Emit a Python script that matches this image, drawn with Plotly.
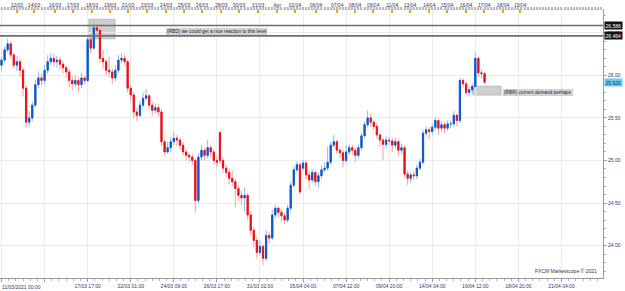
import plotly.graph_objects as go

# ---------------- data (4h candles, XAG/USD-like) ----------------
opens = [26.12, 26.18, 26.30, 26.37, 26.24, 26.12, 26.16, 26.06, 25.85, 25.45,
         25.50, 25.65, 25.89, 25.97, 25.94, 26.06, 26.16, 26.20, 26.16, 26.18,
         26.13, 26.09, 26.04, 25.94, 25.90, 25.94, 25.89, 25.97, 25.94, 26.42,
         26.32, 26.56, 26.53, 26.20, 26.16, 26.06, 26.04, 25.97, 26.06, 26.18,
         26.20, 26.16, 25.85, 25.77, 25.57, 25.53, 25.65, 25.73, 25.76, 25.65,
         25.59, 25.62, 25.57, 25.22, 25.10, 25.15, 25.22, 25.26, 25.24, 25.18,
         25.10, 25.06, 25.04, 25.00, 24.53, 25.04, 25.12, 25.06, 25.15, 25.10,
         25.00, 25.33, 25.00, 24.91, 24.86, 24.79, 24.75, 24.67, 24.59, 24.56,
         24.59, 24.36, 24.18, 24.06, 23.92, 23.99, 23.85, 24.12, 24.09, 24.36,
         24.44, 24.39, 24.35, 24.30, 24.44, 24.71, 24.89, 24.95, 24.91, 24.97,
         24.83, 24.77, 24.86, 24.75, 24.82, 24.89, 24.91, 24.98, 25.18, 25.22,
         25.12, 25.09, 25.00, 25.10, 25.15, 25.12, 25.06, 25.15, 25.29, 25.42,
         25.50, 25.45, 25.40, 25.30, 25.24, 25.19, 25.24, 25.23, 25.18, 25.22,
         25.12, 25.15, 24.84, 24.79, 24.83, 24.82, 24.91, 24.98, 25.32, 25.36,
         25.34, 25.39, 25.47, 25.38, 25.42, 25.38, 25.43, 25.43, 25.53, 25.47,
         25.94, 25.90, 25.80, 25.83, 25.87, 26.20, 26.03, 26.02]
closes = [26.18, 26.30, 26.37, 26.24, 26.12, 26.16, 26.06, 25.85, 25.45, 25.50,
          25.65, 25.89, 25.97, 25.94, 26.06, 26.16, 26.20, 26.16, 26.18, 26.13,
          26.09, 26.04, 25.94, 25.90, 25.94, 25.89, 25.97, 25.94, 26.42, 26.32,
          26.56, 26.53, 26.20, 26.16, 26.06, 26.04, 25.97, 26.06, 26.18, 26.20,
          26.16, 25.85, 25.77, 25.57, 25.53, 25.65, 25.73, 25.76, 25.65, 25.59,
          25.62, 25.57, 25.22, 25.10, 25.15, 25.22, 25.26, 25.24, 25.18, 25.10,
          25.06, 25.04, 25.00, 24.53, 25.04, 25.12, 25.06, 25.15, 25.10, 25.00,
          24.98, 25.00, 24.91, 24.86, 24.79, 24.75, 24.67, 24.59, 24.56, 24.59,
          24.36, 24.18, 24.06, 23.92, 23.99, 23.85, 24.12, 24.09, 24.36, 24.44,
          24.39, 24.35, 24.30, 24.44, 24.71, 24.89, 24.95, 24.63, 24.97, 24.83,
          24.77, 24.86, 24.75, 24.82, 24.89, 24.91, 24.98, 25.18, 25.22, 25.12,
          25.09, 25.00, 25.10, 25.15, 25.12, 25.06, 25.15, 25.29, 25.42, 25.50,
          25.45, 25.40, 25.30, 25.24, 25.19, 25.24, 25.23, 25.18, 25.22, 25.12,
          25.15, 24.84, 24.79, 24.83, 24.82, 24.91, 24.98, 25.32, 25.36, 25.34,
          25.39, 25.47, 25.38, 25.42, 25.38, 25.43, 25.43, 25.53, 25.47, 25.94,
          25.90, 25.80, 25.83, 25.87, 26.20, 26.03, 26.02, 25.92]
highs = [26.22, 26.34, 26.43, 26.40, 26.27, 26.22, 26.20, 26.10, 25.88, 25.58,
         25.70, 25.95, 26.05, 26.02, 26.12, 26.24, 26.26, 26.25, 26.23, 26.22,
         26.17, 26.12, 26.08, 25.99, 26.00, 25.98, 26.03, 26.00, 26.46, 26.45,
         26.62, 26.61, 26.56, 26.30, 26.19, 26.22, 26.08, 26.12, 26.24, 26.26,
         26.24, 26.18, 25.89, 25.80, 25.62, 25.70, 25.80, 25.84, 25.78, 25.68,
         25.67, 25.66, 25.60, 25.25, 25.22, 25.28, 25.34, 25.30, 25.27, 25.22,
         25.13, 25.09, 25.08, 25.02, 25.08, 25.18, 25.15, 25.24, 25.18, 25.13,
         25.05, 25.34, 25.04, 24.95, 24.90, 24.88, 24.78, 24.70, 24.64, 24.68,
         24.62, 24.40, 24.22, 24.10, 24.06, 24.02, 24.18, 24.16, 24.42, 24.48,
         24.46, 24.43, 24.38, 24.48, 24.75, 24.93, 24.99, 24.97, 25.01, 25.00,
         24.88, 24.90, 24.88, 24.86, 24.94, 24.98, 25.16, 25.22, 25.30, 25.25,
         25.16, 25.12, 25.18, 25.20, 25.19, 25.15, 25.19, 25.33, 25.46, 25.59,
         25.55, 25.48, 25.44, 25.33, 25.27, 25.29, 25.28, 25.27, 25.27, 25.25,
         25.20, 25.18, 24.88, 24.86, 24.87, 24.95, 25.02, 25.36, 25.40, 25.39,
         25.43, 25.51, 25.49, 25.46, 25.45, 25.47, 25.47, 25.58, 25.55, 25.97,
         25.97, 25.93, 25.88, 25.91, 26.27, 26.22, 26.07, 26.04]
lows = [26.05, 26.15, 26.27, 26.20, 26.08, 26.05, 25.98, 25.75, 25.39, 25.40,
        25.46, 25.62, 25.85, 25.88, 25.90, 26.02, 26.12, 26.10, 26.09, 26.06,
        26.02, 25.97, 25.86, 25.82, 25.86, 25.80, 25.85, 25.90, 25.92, 26.26,
        26.30, 26.46, 26.15, 26.08, 26.00, 25.98, 25.90, 25.93, 26.03, 26.14,
        26.12, 25.80, 25.70, 25.50, 25.46, 25.50, 25.62, 25.70, 25.60, 25.52,
        25.55, 25.52, 25.17, 25.05, 25.08, 25.10, 25.18, 25.17, 25.12, 25.05,
        25.00, 24.98, 24.95, 24.39, 24.50, 25.00, 25.00, 25.03, 25.04, 24.95,
        24.92, 24.96, 24.85, 24.80, 24.72, 24.70, 24.45, 24.52, 24.48, 24.40,
        24.30, 24.12, 23.98, 23.85, 23.88, 23.77, 23.82, 24.02, 24.06, 24.32,
        24.33, 24.28, 24.25, 24.27, 24.40, 24.68, 24.86, 24.60, 24.88, 24.78,
        24.66, 24.74, 24.70, 24.68, 24.79, 24.86, 24.88, 24.95, 25.15, 25.08,
        25.03, 24.92, 24.97, 25.07, 25.07, 24.98, 25.02, 25.12, 25.26, 25.39,
        25.40, 25.35, 25.25, 25.17, 25.00, 25.14, 25.18, 25.10, 25.14, 25.05,
        25.08, 24.80, 24.71, 24.74, 24.77, 24.78, 24.88, 24.95, 25.28, 25.25,
        25.30, 25.36, 25.30, 25.34, 25.32, 25.35, 25.38, 25.40, 25.40, 25.44,
        25.85, 25.76, 25.75, 25.78, 25.85, 25.98, 25.96, 25.90]
candle_idx = list(range(len(closes)))

bottom_tick_idx = [0, 14, 28, 42, 56, 70, 84, 98, 112, 126, 140, 154, 168, 182]
bottom_tick_text = ["", "", "17/03 17:00", "22/03 01:00", "24/03 09:00", "26/03 17:00",
                    "31/03 02:00", "05/04 04:00", "07/04 12:00", "09/04 20:00",
                    "14/04 04:00", "16/04 12:00", "18/04 20:00", "21/04 04:00"]
first_bottom_label = "11/03/2021 00:00"

top_tick_idx = [5, 10.6, 17.4, 23.2, 29.4, 35.3, 41.1, 47.3, 53.5, 59.3, 65.2, 71.4,
                77.2, 83.4, 89.6, 95.4, 102.2, 109.1, 114.9, 120.8, 127, 132.8, 139,
                144.8, 151, 156.9, 163, 168.6]
top_tick_text = ["12/03", "14/03", "16/03", "17/03", "18/03", "19/03", "21/03", "23/03",
                 "24/03", "25/03", "26/03", "28/03", "30/03", "31/03", "Apr", "02/04",
                 "06/04", "07/04", "08/04", "09/04", "11/04", "13/04", "14/04", "15/04",
                 "16/04", "17/04", "18/04", "19/04"]

level_prices = [26.586, 26.464]
last_price = 25.920
zone1 = dict(x0=28.4, x1=36.9, y0=26.43, y1=26.66)
zone2 = dict(x0=153.3, x1=162.4, y0=25.768, y1=25.874)
note1 = dict(text="(RBD) we could get a nice reaction to this level", x=53.5, y=26.51)
note2 = dict(text="(RBR) current demand perhaps", x=163.0, y=25.80)

x_range = [-0.49, 195.5]
y_range = [23.619, 26.768]

NAVY = "#34346e"
FONT = "Liberation Sans"

fig = go.Figure()
# wicks (light colours)
fig.add_trace(go.Candlestick(
    x=candle_idx, open=opens, high=highs, low=lows, close=closes,
    increasing=dict(line=dict(color="#8dbbea", width=1), fillcolor="#8dbbea"),
    decreasing=dict(line=dict(color="#f3a2a2", width=1), fillcolor="#f3a2a2"),
    hoverinfo="skip", showlegend=False))
# bodies (strong colours)
body_hi = [max(o, c) for o, c in zip(opens, closes)]
body_lo = [min(o, c) for o, c in zip(opens, closes)]
fig.add_trace(go.Candlestick(
    x=candle_idx, open=opens, high=body_hi, low=body_lo, close=closes,
    increasing=dict(line=dict(color="#1155cc", width=1), fillcolor="#1155cc"),
    decreasing=dict(line=dict(color="#e8131b", width=1), fillcolor="#e8131b"),
    hoverinfo="skip", showlegend=False))

shapes = []
for p in level_prices:
    shapes.append(dict(type="line", xref="paper", x0=0, x1=1, yref="y", y0=p, y1=p,
                       line=dict(color="#6e6e6e", width=1.6), layer="above"))
for z in (zone1, zone2):
    shapes.append(dict(type="rect", xref="x", yref="y", x0=z["x0"], x1=z["x1"],
                       y0=z["y0"], y1=z["y1"], fillcolor="rgba(175,175,175,0.6)",
                       line=dict(color="#a8a8a8", width=0.6), layer="below"))

annotations = []
for n in (note1, note2):
    annotations.append(dict(x=n["x"], y=n["y"], xref="x", yref="y", text=n["text"],
                            showarrow=False, xanchor="left", yanchor="middle",
                            bgcolor="#d6d6d6", bordercolor="#c0c0c0", borderwidth=0.5,
                            borderpad=0.5, font=dict(family=FONT, size=4.8, color="#222")))
for p in level_prices:
    annotations.append(dict(x=1, y=p, xref="paper", yref="y", text=f"{p:.3f}",
                            showarrow=False, xanchor="left", yanchor="middle", xshift=1,
                            bgcolor="#111111", borderpad=0.5,
                            font=dict(family=FONT, size=5, color="#ffffff")))
annotations.append(dict(x=1, y=last_price, xref="paper", yref="y", text=f"{last_price:.3f}",
                        showarrow=False, xanchor="left", yanchor="middle", xshift=1,
                        bgcolor="#66ccf0", borderpad=0.5,
                        font=dict(family=FONT, size=5, color="#1a2a6a")))
annotations.append(dict(x=0, y=0, xref="paper", yref="paper", text=first_bottom_label,
                        showarrow=False, xanchor="left", yanchor="top", yshift=-4,
                        font=dict(family=FONT, size=5, color=NAVY)))
annotations.append(dict(x=0.993, y=0.008, xref="paper", yref="paper",
                        text="FXCM Marketscope © 2021", showarrow=False,
                        xanchor="right", yanchor="bottom",
                        font=dict(family=FONT, size=5, color="#333")))

fig.update_layout(
    width=625, height=291,
    margin=dict(l=0, r=22, t=10, b=13),
    paper_bgcolor="white", plot_bgcolor="white",
    showlegend=False, boxgap=0.45,
    shapes=shapes, annotations=annotations,
    xaxis=dict(range=x_range, rangeslider=dict(visible=False),
               tickmode="array", tickvals=bottom_tick_idx, ticktext=bottom_tick_text,
               showgrid=True, gridcolor="#ececec", gridwidth=1, zeroline=False,
               showline=True, linecolor="#9a9a9a", linewidth=1,
               ticks="outside", ticklen=3, tickcolor="#9a9a9a",
               minor=dict(dtick=14 / 6, tick0=0, ticks="outside", ticklen=2,
                          tickcolor="#b0b0b0", showgrid=False),
               tickfont=dict(family=FONT, size=5, color=NAVY)),
    xaxis2=dict(range=x_range, overlaying="x", side="top", anchor="y",
                tickmode="array", tickvals=top_tick_idx, ticktext=top_tick_text,
                showgrid=False, zeroline=False, showline=True, linecolor="#c8c8c8",
                linewidth=1, ticks="inside", ticklen=3, tickwidth=2, tickcolor="#f0a020",
                minor=dict(dtick=1, tick0=0, ticks="outside", ticklen=2,
                           tickcolor="#b8b8b8", showgrid=False),
                tickfont=dict(family=FONT, size=5, color=NAVY)),
    yaxis=dict(range=y_range, side="right", tickmode="linear", tick0=24, dtick=0.5,
               tickformat=".2f", showgrid=True, gridcolor="#ececec", zeroline=False,
               showline=True, linecolor="#9a9a9a", linewidth=1,
               ticks="outside", ticklen=3, tickcolor="#9a9a9a",
               minor=dict(dtick=0.1, ticks="outside", ticklen=2, tickcolor="#b0b0b0",
                          showgrid=False),
               tickfont=dict(family=FONT, size=5, color=NAVY)),
)
# invisible trace so the top axis renders
fig.add_trace(go.Scatter(x=[x_range[0]], y=[y_range[0]], xaxis="x2", mode="markers",
                         marker=dict(opacity=0), hoverinfo="skip", showlegend=False))

fig.write_html("out.html")
